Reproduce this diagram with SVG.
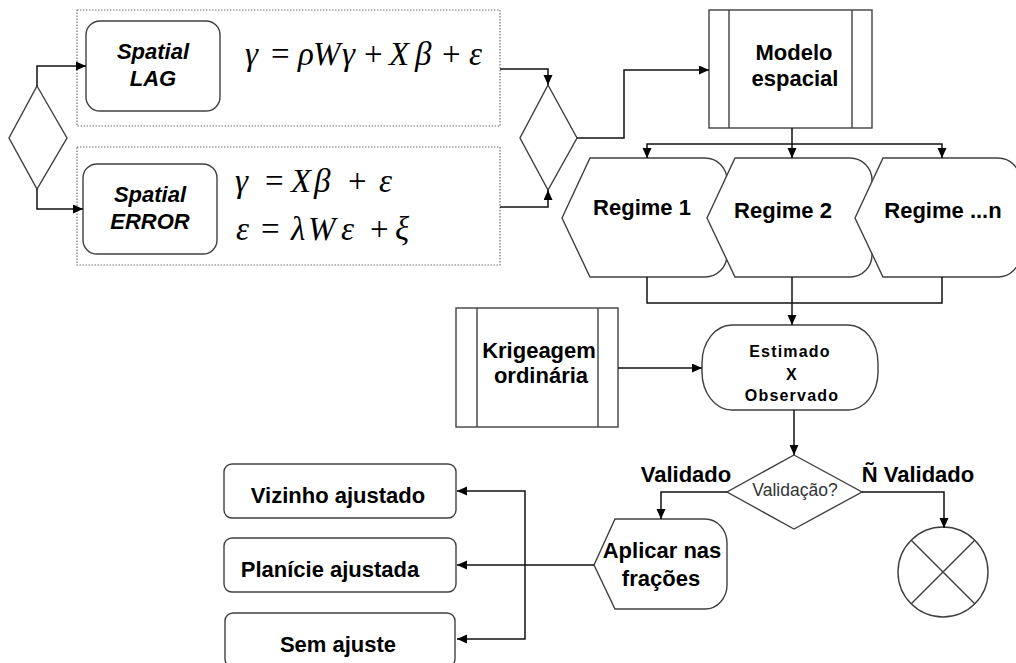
<svg xmlns="http://www.w3.org/2000/svg" width="1016" height="663" viewBox="0 0 1016 663">
  <style>
    .shape { fill: #fff; stroke: #404040; stroke-width: 1.4; }
    .frame { fill: none; stroke: #707070; stroke-width: 1.2; stroke-dasharray: 1.5 1.5; }
    .conn { fill: none; stroke: #111; stroke-width: 1.5; }
    .lbl { font-family: "Liberation Sans", Arial, sans-serif; font-weight: bold; font-size: 22px; fill: #000; text-anchor: middle; }
    .ital { font-style: italic; }
    .small { font-family: "Liberation Sans", Arial, sans-serif; font-weight: bold; font-size: 16px; letter-spacing: 1.2px; fill: #000; text-anchor: middle; }
    .q { font-family: "Liberation Sans", Arial, sans-serif; font-size: 17.5px; fill: #333; text-anchor: middle; }
    .eq { font-family: "Liberation Serif", "Times New Roman", serif; font-size: 33px; font-style: italic; fill: #000; }
    .up { font-style: normal; }
  </style>
  <defs>
    <marker id="arrow" markerUnits="userSpaceOnUse" markerWidth="11" markerHeight="10" refX="10" refY="4.5" orient="auto">
      <path d="M0,0 L10,4.5 L0,9 Z" fill="#000"/>
    </marker>
  </defs>

  <!-- model frames -->
  <g id="lag-frame">
    <rect class="frame" x="77" y="10" width="423" height="116"/>
    <rect class="shape" x="86" y="21" width="134" height="90" rx="14"/>
    <text class="lbl ital" x="153" y="59">Spatial</text>
    <text class="lbl ital" x="153" y="86">LAG</text>
    <text class="eq" y="65"><tspan x="245">γ</tspan><tspan class="up" x="271">=</tspan><tspan x="298">ρ</tspan><tspan x="313">W</tspan><tspan x="342">γ</tspan><tspan class="up" x="364">+</tspan><tspan x="389">X</tspan><tspan x="415">β</tspan><tspan class="up" x="442">+</tspan><tspan x="469">ε</tspan></text>
  </g>
  <g id="error-frame">
    <rect class="frame" x="77" y="147" width="423" height="118"/>
    <rect class="shape" x="83" y="164" width="134" height="90" rx="14"/>
    <text class="lbl ital" x="150" y="202">Spatial</text>
    <text class="lbl ital" x="150" y="229">ERROR</text>
    <text class="eq" y="192"><tspan x="235">γ</tspan><tspan class="up" x="265">=</tspan><tspan x="291">X</tspan><tspan x="314">β</tspan><tspan class="up" x="348">+</tspan><tspan x="379">ε</tspan></text>
    <text class="eq" y="240"><tspan x="236">ε</tspan><tspan class="up" x="261">=</tspan><tspan x="291">λ</tspan><tspan x="308">W</tspan><tspan x="341">ε</tspan><tspan class="up" x="370">+</tspan><tspan x="395">ξ</tspan></text>
  </g>

  <!-- decisions -->
  <g id="split">
    <polygon class="shape" points="37,86 67,138 37,189 9,138"/>
  </g>
  <g id="merge">
    <polygon class="shape" points="548,85 577,138 548,190 520,138"/>
  </g>

  <g id="modelo">
    <rect class="shape" x="709" y="10" width="163" height="118"/>
    <line class="shape" x1="729" y1="10" x2="729" y2="128"/>
    <line class="shape" x1="852" y1="10" x2="852" y2="128"/>
    <text class="lbl" x="794" y="60">Modelo</text>
    <text class="lbl" x="795" y="86">espacial</text>
  </g>

  <!-- regimes (drawn left to right so each overlaps the previous one) -->
  <g id="regime-1">
    <path class="shape" d="M562,218 L590,158 H705 A22,22 0 0 1 727,180 V255 A22,22 0 0 1 705,277 H590 Z"/>
    <text class="lbl" x="642" y="215">Regime 1</text>
  </g>
  <g id="regime-2">
    <path class="shape" d="M707,218 L735,158 H850 A22,22 0 0 1 872,180 V255 A22,22 0 0 1 850,277 H735 Z"/>
    <text class="lbl" x="783" y="218">Regime 2</text>
  </g>
  <g id="regime-n">
    <path class="shape" d="M855,218 L883,158 H998 A22,22 0 0 1 1020,180 V255 A22,22 0 0 1 998,277 H883 Z"/>
    <text class="lbl" x="943" y="218">Regime ...n</text>
  </g>

  <g id="krigeagem">
    <rect class="shape" x="456" y="308" width="162" height="119"/>
    <line class="shape" x1="477" y1="308" x2="477" y2="427"/>
    <line class="shape" x1="598" y1="308" x2="598" y2="427"/>
    <text class="lbl" x="539" y="358">Krigeagem</text>
    <text class="lbl" x="541" y="383">ordinária</text>
  </g>

  <g id="comparacao">
    <rect class="shape" x="702" y="325" width="176" height="85" rx="30" ry="38"/>
    <text class="small" x="790" y="357">Estimado</text>
    <text class="small" x="792" y="380">X</text>
    <text class="small" x="792" y="401">Observado</text>
  </g>

  <g id="validacao">
    <polygon class="shape" points="794,455 862,492 794,529 727,492"/>
    <text class="q" x="795" y="496">Validação?</text>
  </g>

  <g id="aplicar">
    <path class="shape" d="M594,565 L615,519 H705 A22,24 0 0 1 727,543 V585 A22,24 0 0 1 705,609 H615 Z"/>
    <text class="lbl" x="662" y="558">Aplicar nas</text>
    <text class="lbl" x="661" y="586">frações</text>
  </g>

  <g id="fim">
    <circle class="shape" cx="943" cy="572" r="45"/>
    <line class="shape" x1="911" y1="540" x2="975" y2="604"/>
    <line class="shape" x1="975" y1="540" x2="911" y2="604"/>
  </g>

  <g id="vizinho">
    <rect class="shape" x="224" y="464" width="232" height="54" rx="8"/>
    <text class="lbl" x="338" y="503">Vizinho ajustado</text>
  </g>
  <g id="planicie">
    <rect class="shape" x="224" y="538" width="232" height="54" rx="8"/>
    <text class="lbl" x="330" y="577">Planície ajustada</text>
  </g>
  <g id="sem-ajuste">
    <rect class="shape" x="225" y="613" width="230" height="54" rx="8"/>
    <text class="lbl" x="338" y="652">Sem ajuste</text>
  </g>

  <!-- branch labels -->
  <text class="lbl" x="686" y="482">Validado</text>
  <text class="lbl" x="918" y="482">Ñ Validado</text>

  <g id="connectors">
    <path class="conn" d="M37,86 V66 H86" marker-end="url(#arrow)"/>
    <path class="conn" d="M37,189 V209 H83" marker-end="url(#arrow)"/>
    <path class="conn" d="M500,69 H548 V85" marker-end="url(#arrow)"/>
    <path class="conn" d="M500,207 H548 V190" marker-end="url(#arrow)"/>
    <path class="conn" d="M577,138 H624 V70 H709" marker-end="url(#arrow)"/>
    <path class="conn" d="M792,128 V144 H647 V158" marker-end="url(#arrow)"/>
    <path class="conn" d="M792,144 V158" marker-end="url(#arrow)"/>
    <path class="conn" d="M792,144 H942 V158" marker-end="url(#arrow)"/>
    <path class="conn" d="M647,277 V303 H942 V277"/>
    <path class="conn" d="M792,277 V325" marker-end="url(#arrow)"/>
    <path class="conn" d="M618,368 H702" marker-end="url(#arrow)"/>
    <path class="conn" d="M794,410 V455" marker-end="url(#arrow)"/>
    <path class="conn" d="M727,492 H661 V519" marker-end="url(#arrow)"/>
    <path class="conn" d="M862,492 H944 V528" marker-end="url(#arrow)"/>
    <path class="conn" d="M594,565 H457" marker-end="url(#arrow)"/>
    <path class="conn" d="M525,565 V491 H457" marker-end="url(#arrow)"/>
    <path class="conn" d="M525,565 V639 H457" marker-end="url(#arrow)"/>
  </g>
</svg>
